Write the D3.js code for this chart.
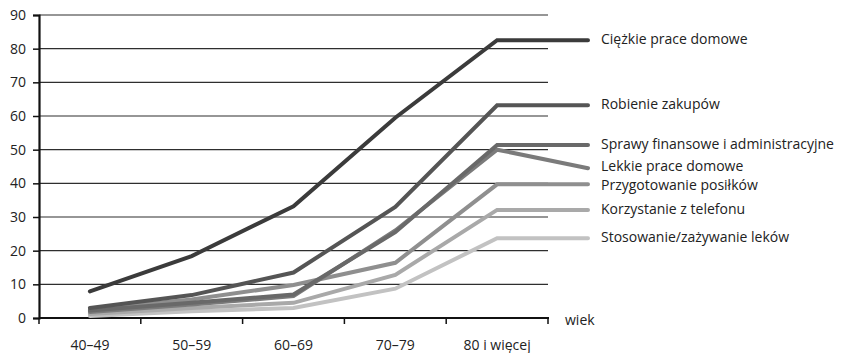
<!DOCTYPE html>
<html>
<head>
<meta charset="utf-8">
<script src="https://cdn.jsdelivr.net/npm/d3@7"></script>
<style>
  html, body { margin: 0; padding: 0; background: #fff; }
  svg { display: block; font-family: "Open Sans", "Noto Sans", sans-serif; }
</style>
</head>
<body>
<svg id="chart" width="841" height="353"></svg>
<script>
// Age groups (x axis)
const categories = ["40–49", "50–59", "60–69", "70–79", "80 i więcej"];

// Activity series, percent of people needing help, by age group
const seriesNames = [
  "Ciężkie prace domowe",
  "Robienie zakupów",
  "Sprawy finansowe i administracyjne",
  "Lekkie prace domowe",
  "Przygotowanie posiłków",
  "Korzystanie z telefonu",
  "Stosowanie/zażywanie leków"
];
const ciezkiePrace   = [7.9, 18.4, 33.2, 59.5, 82.5];
const zakupy         = [3.0, 6.8, 13.5, 33.0, 63.2];
const sprawyFinans   = [2.2, 4.5, 7.0, 25.5, 51.4];
const lekkiePrace    = [1.8, 4.0, 6.5, 26.0, 50.0];
const posilki        = [2.5, 5.5, 9.8, 16.4, 39.7];
const telefon        = [1.2, 3.0, 4.5, 12.8, 32.1];
const leki           = [0.6, 2.0, 3.0, 8.7, 23.7];
const seriesValues = [ciezkiePrace, zakupy, sprawyFinans, lekkiePrace, posilki, telefon, leki];

// Level (in axis units) where each series' label sits
const labelLevels = [82.5, 63.2, 51.4, 44.5, 39.7, 32.1, 23.7];

const yTicks = [0, 10, 20, 30, 40, 50, 60, 70, 80, 90];
const xAxisTitle = "wiek";

const colors = ["#3b3b3b", "#555555", "#696969", "#7b7b7b", "#8f8f8f", "#a9a9a9", "#c2c2c2"];

const svg = d3.select("#chart");
const plotLeft = 39, plotRight = 548, plotTop = 15, plotBottom = 318;
const legendX = 588;
const fontSize = 14;

const x = d3.scaleBand().domain(categories).range([plotLeft, plotRight]).padding(0);
const y = d3.scaleLinear().domain([0, 90]).range([plotBottom, plotTop]);

// Horizontal gridlines
svg.append("g")
  .selectAll("line")
  .data(yTicks.filter(d => d > 0))
  .join("line")
  .attr("x1", plotLeft).attr("x2", plotRight)
  .attr("y1", d => y(d)).attr("y2", d => y(d))
  .attr("stroke", "#2e2e2e").attr("stroke-width", 1.2);

// Y axis
const yAxis = svg.append("g")
  .attr("transform", `translate(${plotLeft},0)`)
  .call(d3.axisLeft(y).tickValues(yTicks).tickSize(6).tickPadding(7));
yAxis.select(".domain").attr("stroke", "#111").attr("stroke-width", 2.2);
yAxis.selectAll(".tick line").attr("stroke", "#111").attr("stroke-width", 1.5);
yAxis.selectAll(".tick text").attr("font-size", fontSize).attr("fill", "#222")
  .attr("font-family", "'Open Sans', sans-serif");

// X axis: ticks on band boundaries
const xAxisG = svg.append("g").attr("transform", `translate(0,${plotBottom})`);
xAxisG.append("line")
  .attr("x1", plotLeft).attr("x2", plotRight + 1)
  .attr("stroke", "#111").attr("stroke-width", 2.2);
const boundaries = categories.map(c => x(c)).concat([x(categories[categories.length - 1]) + x.bandwidth()]);
xAxisG.selectAll(".bt")
  .data(boundaries)
  .join("line")
  .attr("class", "bt")
  .attr("x1", d => d).attr("x2", d => d)
  .attr("y1", 0).attr("y2", 6)
  .attr("stroke", "#111").attr("stroke-width", 1.5);
xAxisG.selectAll(".cl")
  .data(categories)
  .join("text")
  .attr("class", "cl")
  .attr("x", d => x(d) + x.bandwidth() / 2)
  .attr("y", 32)
  .attr("text-anchor", "middle")
  .attr("font-size", fontSize)
  .attr("fill", "#222")
  .text(d => d);
xAxisG.append("text")
  .attr("x", 565).attr("y", 7)
  .attr("font-size", fontSize).attr("fill", "#222")
  .text(xAxisTitle);

// Series lines, each continued out to its label
const cx = c => x(c) + x.bandwidth() / 2;
const line = d3.line().x(d => d[0]).y(d => d[1]);

const order = d3.range(seriesValues.length).reverse();
svg.append("g")
  .selectAll("path")
  .data(order)
  .join("path")
  .attr("d", i => {
    const pts = seriesValues[i].map((v, j) => [cx(categories[j]), y(v)]);
    pts.push([legendX, y(labelLevels[i])]);
    return line(pts);
  })
  .attr("fill", "none")
  .attr("stroke", i => colors[i])
  .attr("stroke-width", 4)
  .attr("stroke-linejoin", "miter")
  .attr("stroke-linecap", "round");

// Series labels; the two closely stacked ones are eased apart a little
const labelNudge = [0, 0, 0, -1.5, 1.5, 0, 0];
svg.append("g")
  .selectAll("text")
  .data(seriesNames)
  .join("text")
  .attr("x", 601)
  .attr("y", (d, i) => y(labelLevels[i]) + labelNudge[i])
  .attr("dy", "0.3em")
  .attr("font-size", fontSize)
  .attr("fill", "#222")
  .text(d => d);
</script>
</body>
</html>
